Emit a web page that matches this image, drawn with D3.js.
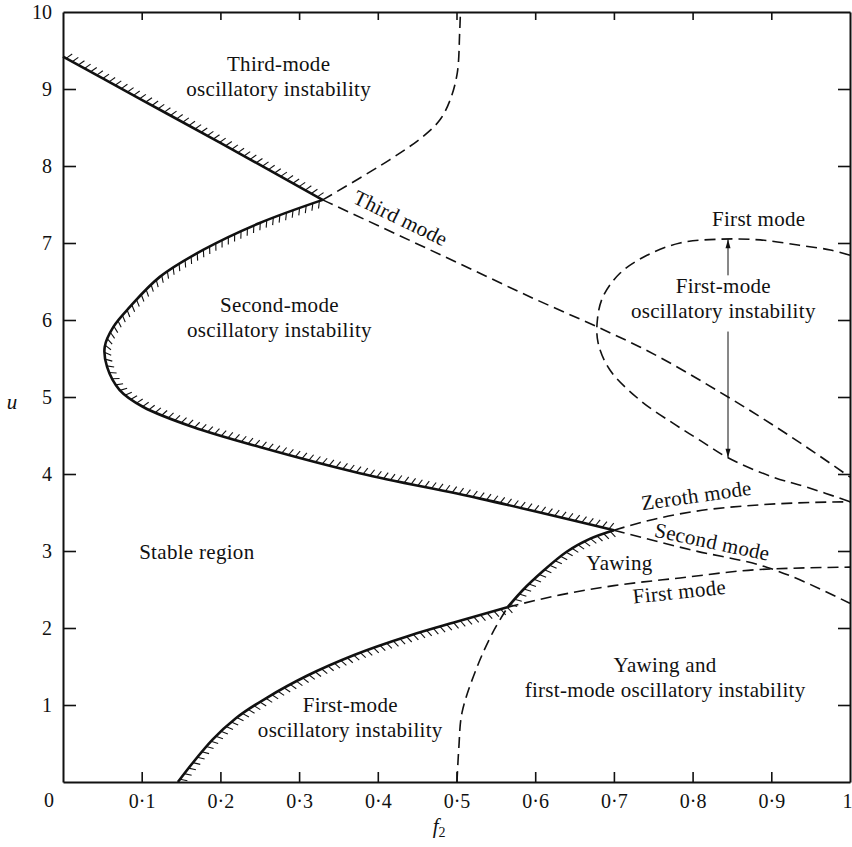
<!DOCTYPE html>
<html>
<head>
<meta charset="utf-8">
<script src="https://cdn.jsdelivr.net/npm/d3@7"></script>
<style>
  html, body { margin: 0; padding: 0; background: #ffffff; }
  svg text { font-family: "Liberation Serif", "Times New Roman", serif; fill: #111; }
</style>
</head>
<body>
<div id="chart"></div>
<script>
// axis ticks
const xTicks = [0, 0.1, 0.2, 0.3, 0.4, 0.5, 0.6, 0.7, 0.8, 0.9, 1];
const yTicks = [1, 2, 3, 4, 5, 6, 7, 8, 9, 10];

// solid stability boundaries, [f2, u]
const thirdModeBoundary = [[0, 9.42], [0.1, 8.86], [0.2, 8.3], [0.33, 7.56]];
const secondModeBoundary = [
  [0.33, 7.56], [0.25, 7.26], [0.178, 6.91], [0.123, 6.56], [0.085, 6.17],
  [0.064, 5.91], [0.053, 5.65], [0.056, 5.39], [0.072, 5.09], [0.102, 4.87],
  [0.165, 4.61], [0.25, 4.35], [0.377, 4.01], [0.53, 3.68], [0.70, 3.27]
];
const firstModeBoundary = [
  [0.146, 0], [0.165, 0.25], [0.19, 0.55], [0.22, 0.83], [0.26, 1.1],
  [0.31, 1.38], [0.37, 1.65], [0.44, 1.9], [0.50, 2.08], [0.565, 2.27]
];
const yawingBoundary = [[0.565, 2.27], [0.585, 2.5], [0.61, 2.74], [0.64, 2.99], [0.67, 3.16], [0.70, 3.27]];

// dashed mode curves, [f2, u]
const secondModeUpper = [
  [0.33, 7.56], [0.415, 8.08], [0.457, 8.38], [0.479, 8.6], [0.492, 8.86],
  [0.501, 9.21], [0.504, 9.73], [0.505, 10]
];
const thirdModeLine = [
  [0.33, 7.56], [0.5, 6.75], [0.6, 6.27], [0.679, 5.91], [0.733, 5.65],
  [0.845, 5.0], [0.93, 4.45], [1.0, 3.96]
];
const firstModeLoop = [
  [1.0, 6.84], [0.975, 6.91], [0.936, 6.97], [0.886, 7.04], [0.835, 7.05],
  [0.784, 7.0], [0.742, 6.84], [0.708, 6.61], [0.686, 6.3], [0.679, 6.0],
  [0.68, 5.7], [0.695, 5.35], [0.733, 4.96], [0.775, 4.66], [0.809, 4.44],
  [0.845, 4.21], [0.902, 3.96], [0.945, 3.83], [1.0, 3.64]
];
const zerothModeLine = [[0.70, 3.27], [0.75, 3.41], [0.80, 3.51], [0.886, 3.6], [1.0, 3.64]];
const secondModeLine = [[0.70, 3.27], [0.80, 3.01], [0.894, 2.79], [1.0, 2.32]];
const firstModeLine = [[0.565, 2.27], [0.632, 2.43], [0.70, 2.55], [0.784, 2.65], [0.886, 2.76], [1.0, 2.79]];
const yawingLower = [[0.5006, 0], [0.503, 0.45], [0.507, 0.9], [0.526, 1.49], [0.546, 1.94], [0.565, 2.27]];

// first-mode span arrow: f2, u top, u bottom
const spanArrow = { f: 0.845, top: 7.05, bottom: 4.21, gapTop: 6.58, gapBottom: 5.85 };

const regionLabels = [
  { lines: ["Third-mode", "oscillatory instability"], f: 0.274, u: 9.23 },
  { lines: ["Second-mode", "oscillatory instability"], f: 0.275, u: 6.1 },
  { lines: ["First-mode", "oscillatory instability"], f: 0.839, u: 6.35 },
  { lines: ["Stable region"], f: 0.17, u: 2.9 },
  { lines: ["First-mode", "oscillatory instability"], f: 0.365, u: 0.91 },
  { lines: ["Yawing and", "first-mode oscillatory instability"], f: 0.765, u: 1.43 },
  { lines: ["Yawing"], f: 0.707, u: 2.75 },
  { lines: ["First mode"], f: 0.884, u: 7.22 }
];

const curveLabels = [
  { text: "Third mode", f: 0.425, u: 7.24, angle: 26 },
  { text: "Zeroth mode", f: 0.806, u: 3.63, angle: -8 },
  { text: "Second mode", f: 0.823, u: 3.03, angle: 12 },
  { text: "First mode", f: 0.784, u: 2.38, angle: -6 }
];

const width = 852;
const height = 847;
const margin = { top: 12, right: 2, bottom: 65, left: 63 };

const svg = d3.select("#chart")
  .append("svg")
  .attr("width", width)
  .attr("height", height);

const x = d3.scaleLinear()
  .domain([0, 1])
  .range([margin.left, width - margin.right]);

const y = d3.scaleLinear()
  .domain([0, 10])
  .range([height - margin.bottom, margin.top]);

// curves that turn back on themselves use Catmull-Rom, the rest run left to right
const loopLine = d3.line()
  .x(d => x(d[0]))
  .y(d => y(d[1]))
  .curve(d3.curveCatmullRom.alpha(0.5));

const monoLine = d3.line()
  .x(d => x(d[0]))
  .y(d => y(d[1]))
  .curve(d3.curveMonotoneX);

const tickFmt = d => d === 0 ? "" : d === 1 ? "1" : d.toFixed(1).replace(".", "\u00b7");

// axes, ticks pointing inward
const bottomAxis = svg.append("g")
  .attr("transform", `translate(0, ${y(0)})`)
  .call(d3.axisBottom(x).tickValues(xTicks).tickSize(-10).tickSizeOuter(0).tickPadding(12).tickFormat(tickFmt));

const topAxis = svg.append("g")
  .attr("transform", `translate(0, ${y(10)})`)
  .call(d3.axisTop(x).tickValues(xTicks.slice(1, -1)).tickSize(-8).tickSizeOuter(0).tickFormat(""));

const leftAxis = svg.append("g")
  .attr("transform", `translate(${x(0)}, 0)`)
  .call(d3.axisLeft(y).tickValues(yTicks).tickSize(-13).tickSizeOuter(0).tickPadding(11));

const rightAxis = svg.append("g")
  .attr("transform", `translate(${x(1)}, 0)`)
  .call(d3.axisRight(y).tickValues(yTicks.slice(0, -1)).tickSize(-12).tickSizeOuter(0).tickFormat(""));

[bottomAxis, topAxis, leftAxis, rightAxis].forEach(g => {
  g.select(".domain").attr("stroke", "#111").attr("stroke-width", 2);
  g.selectAll(".tick line").attr("stroke", "#111").attr("stroke-width", 1.6);
  g.selectAll(".tick text")
    .attr("font-family", "\"Liberation Serif\", \"Times New Roman\", serif")
    .attr("font-size", 20)
    .attr("fill", "#111");
});
bottomAxis.selectAll(".tick").filter(d => d === 0 || d === 1).select("line").remove();
// the "1" sits at the right edge of the page, keep it inside
bottomAxis.selectAll(".tick").filter(d => d === 1).select("text").attr("text-anchor", "end").attr("x", 2);
leftAxis.selectAll(".tick").filter(d => d === 10).select("line").remove();

// the shared origin label sits a bit left of the corner
svg.append("text")
  .attr("x", x(0) - 14)
  .attr("y", y(0) + 25)
  .attr("text-anchor", "middle")
  .attr("font-size", 20)
  .text("0");

// axis titles
svg.append("text")
  .attr("x", 12)
  .attr("y", y(4.85))
  .attr("text-anchor", "middle")
  .attr("font-size", 21)
  .attr("font-style", "italic")
  .text("u");

const fLabel = svg.append("text")
  .attr("x", x(0.478))
  .attr("y", 833)
  .attr("text-anchor", "middle")
  .attr("font-size", 21)
  .attr("font-style", "italic");
fLabel.append("tspan").text("f");
fLabel.append("tspan").attr("font-size", 14).attr("dy", 4).attr("font-style", "normal").text("2");

// solid boundaries with hatching on the unstable side
function drawHatched(points, side, gen) {
  const path = svg.append("path")
    .datum(points)
    .attr("d", gen)
    .attr("fill", "none")
    .attr("stroke", "#111")
    .attr("stroke-width", 2.6);

  const node = path.node();
  const total = node.getTotalLength();
  const step = 7;
  const len = 7.5;
  const tilt = 0.45;
  const marks = [];

  for (let s = step / 2; s < total; s += step) {
    const p = node.getPointAtLength(s);
    const a = node.getPointAtLength(Math.max(0, s - 1));
    const b = node.getPointAtLength(Math.min(total, s + 1));
    let tx = b.x - a.x;
    let ty = b.y - a.y;
    const n = Math.hypot(tx, ty) || 1;
    tx /= n;
    ty /= n;
    const nx = ty * side;
    const ny = -tx * side;
    const dx = nx * Math.cos(tilt) + tx * Math.sin(tilt);
    const dy = ny * Math.cos(tilt) + ty * Math.sin(tilt);
    marks.push([p.x, p.y, p.x + dx * len, p.y + dy * len]);
  }

  svg.append("g")
    .selectAll("line")
    .data(marks)
    .enter()
    .append("line")
    .attr("x1", d => d[0])
    .attr("y1", d => d[1])
    .attr("x2", d => d[2])
    .attr("y2", d => d[3])
    .attr("stroke", "#111")
    .attr("stroke-width", 1.1);
}

drawHatched(thirdModeBoundary, 1, monoLine);
drawHatched(secondModeBoundary, 1, loopLine);
drawHatched(firstModeBoundary, -1, monoLine);
drawHatched(yawingBoundary, -1, monoLine);

// dashed mode curves
[
  [secondModeUpper, loopLine],
  [thirdModeLine, monoLine],
  [firstModeLoop, loopLine],
  [zerothModeLine, monoLine],
  [secondModeLine, monoLine],
  [firstModeLine, monoLine],
  [yawingLower, loopLine]
].forEach(([points, gen]) => {
  svg.append("path")
    .datum(points)
    .attr("d", gen)
    .attr("fill", "none")
    .attr("stroke", "#111")
    .attr("stroke-width", 1.6)
    .attr("stroke-dasharray", "11,6");
});

// span arrow through the first-mode loop
const arrowX = x(spanArrow.f);
svg.append("line")
  .attr("x1", arrowX).attr("x2", arrowX)
  .attr("y1", y(spanArrow.top)).attr("y2", y(spanArrow.gapTop))
  .attr("stroke", "#111").attr("stroke-width", 1);
svg.append("line")
  .attr("x1", arrowX).attr("x2", arrowX)
  .attr("y1", y(spanArrow.gapBottom)).attr("y2", y(spanArrow.bottom))
  .attr("stroke", "#111").attr("stroke-width", 1);
svg.append("path")
  .attr("d", `M${arrowX},${y(spanArrow.top)} l-2.5,9 l5,0 Z`)
  .attr("fill", "#111");
svg.append("path")
  .attr("d", `M${arrowX},${y(spanArrow.bottom)} l-2.5,-9 l5,0 Z`)
  .attr("fill", "#111");

// region labels
regionLabels.forEach(d => {
  const t = svg.append("text")
    .attr("x", x(d.f))
    .attr("y", y(d.u))
    .attr("text-anchor", "middle")
    .attr("font-size", 21)
    .attr("letter-spacing", 0.3);
  d.lines.forEach((s, i) => {
    t.append("tspan")
      .attr("x", x(d.f))
      .attr("dy", i === 0 ? 0 : 25)
      .text(s);
  });
});

// labels that follow a curve
curveLabels.forEach(d => {
  svg.append("text")
    .attr("transform", `translate(${x(d.f)}, ${y(d.u)}) rotate(${d.angle})`)
    .attr("text-anchor", "middle")
    .attr("font-size", 21)
    .attr("letter-spacing", 0.3)
    .text(d.text);
});
</script>
</body>
</html>
